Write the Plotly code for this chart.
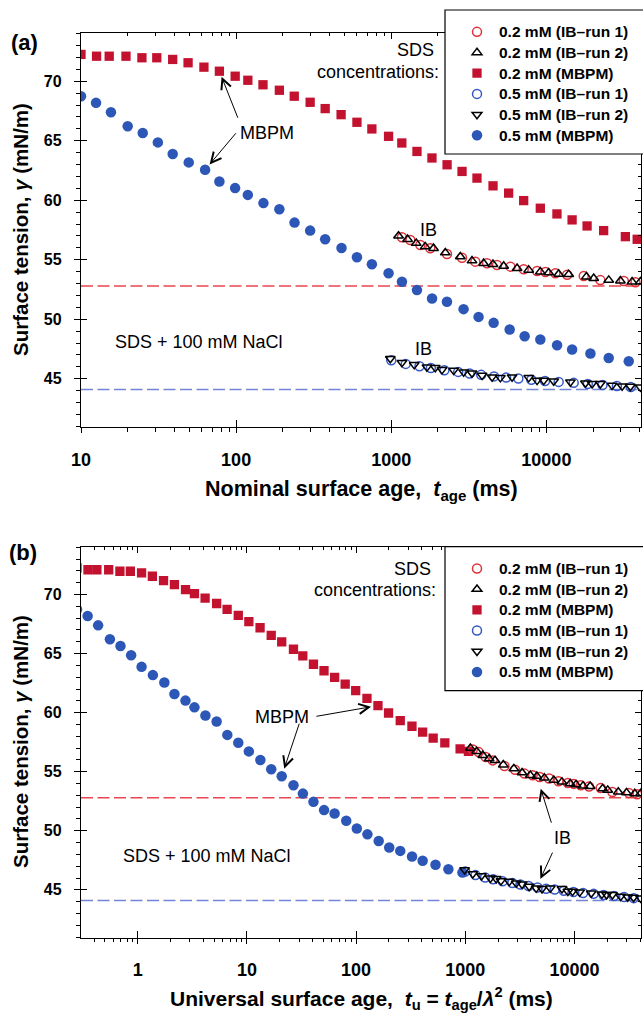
import plotly.graph_objects as go
import numpy as np

# ---------------------------------------------------------------
# Surface tension of SDS + 100 mM NaCl solutions
# MBPM = maximum bubble pressure method, IB = inclined bubble runs
# ---------------------------------------------------------------

# 0.2 mM SDS, MBPM: nominal surface age (ms) and surface tension (mN/m)
t_age_mbpm_02 = [10, 12.6, 15.2, 19.5, 24.7, 30.8, 39, 49, 62, 78, 98.6, 119, 149, 190,
                 237, 300, 375, 475, 601, 750, 961, 1170, 1465, 1830, 2290, 2860, 3570,
                 4530, 5710, 7140, 9140, 11700, 14650, 18300, 23400, 32300, 38500]
gamma_mbpm_02 = [72.25, 72.1, 72.1, 72.1, 71.97, 71.97, 71.83, 71.55, 71.18, 70.84, 70.42,
                 70.08, 69.70, 69.24, 68.74, 68.23, 67.70, 67.19, 66.55, 65.99, 65.37, 64.81,
                 64.10, 63.55, 62.98, 62.42, 61.86, 61.21, 60.60, 59.97, 59.33, 58.85, 58.35,
                 57.84, 57.45, 56.94, 56.72]

# 0.5 mM SDS, MBPM
t_age_mbpm_05 = [10, 12.5, 15.6, 20.0, 25.0, 31.3, 39.0, 49.5, 63.1, 78.0, 98.5, 119, 150,
                 190, 238, 300, 375, 478, 601, 750, 961, 1172, 1465, 1832, 2287, 2925, 3656,
                 4571, 5800, 7244, 9140, 11720, 14650, 19230, 25230, 33960]
gamma_mbpm_05 = [68.74, 68.18, 67.39, 66.21, 65.65, 64.86, 63.88, 63.18, 62.56, 61.58, 61.02,
                 60.45, 59.76, 59.25, 58.12, 57.45, 56.72, 55.99, 55.21, 54.62, 53.86, 53.15,
                 52.45, 51.75, 51.47, 50.85, 50.20, 49.70, 49.14, 48.58, 48.30, 47.82, 47.46,
                 47.12, 46.75, 46.47]

# 0.2 mM SDS, IB run 1 and run 2
t_ib1_02 = [1172, 1327, 1540, 1785, 2287, 2858, 3483, 4142, 4806, 5866, 7145, 8710, 9862,
            11430, 13610, 17420, 22290, 31560, 37540]
gamma_ib1_02 = [56.89, 56.66, 56.24, 55.96, 55.48, 55.17, 54.84, 54.70, 54.56, 54.42, 54.20,
                54.05, 53.97, 53.86, 53.74, 53.63, 53.29, 53.21, 53.10]
t_ib2_02 = [1114, 1274, 1449, 1656, 1874, 2230, 2786, 3316, 3940, 4527, 5306, 6474, 7692,
            9145, 10350, 12000, 13930, 18120, 20190, 25240, 30000, 35700, 40360]
gamma_ib2_02 = [57.0, 56.72, 56.39, 56.10, 55.96, 55.59, 55.26, 54.92, 54.70, 54.62, 54.47,
                54.28, 54.14, 53.99, 53.91, 53.80, 53.77, 53.57, 53.44, 53.29, 53.23, 53.15,
                53.15]

# 0.5 mM SDS, IB run 1 and run 2
t_ib1_05 = [1000, 1240, 1520, 1800, 2200, 2700, 3200, 3800, 4600, 5500, 6600, 8000, 9800,
            12000, 15000, 18500, 23000, 28500, 35000]
gamma_ib1_05 = [46.55, 46.25, 46.05, 45.90, 45.72, 45.58, 45.45, 45.33, 45.20, 45.10, 45.02,
                44.92, 44.82, 44.74, 44.66, 44.57, 44.48, 44.40, 44.30]
t_ib2_05 = [986, 1172, 1407, 1698, 1922, 2124, 2525, 2929, 3316, 3850, 4465, 5050, 6010,
            7692, 8710, 9615, 11150, 14280, 17860, 19720, 22300, 26500, 30780, 34800, 40360]
gamma_ib2_05 = [46.70, 46.36, 46.19, 45.99, 45.94, 45.77, 45.71, 45.57, 45.48, 45.29, 45.15,
                45.10, 45.15, 45.10, 44.87, 44.87, 44.81, 44.73, 44.64, 44.59, 44.59, 44.45,
                44.39, 44.36, 44.30]

# bubble expansion factor used for the universal surface age t_u = t_age / lambda^2
LAMBDA_SQ_MBPM = 36.0
LAMBDA_SQ_IB = 1.0

# equilibrium surface tensions (dashed lines)
gamma_eq_02 = 52.8
gamma_eq_05 = 44.1

# axis ticks
x_major_ticks = [1, 10, 100, 1000, 10000]
x_major_text = ["1", "10", "100", "1000", "10000"]
y_major_ticks = [45, 50, 55, 60, 65, 70]
y_major_text = ["45", "50", "55", "60", "65", "70"]
x_minor_ticks = [k * 10.0 ** e for e in range(-1, 5) for k in range(2, 10)]
y_minor_ticks = list(range(41, 75))

X_RANGE_A = [1.0, 4.61]
X_RANGE_B = [-0.52, 4.61]
Y_RANGE = [40.95, 74.05]

FONT = "Liberation Sans, Arial, Helvetica, sans-serif"
RED_FILL = "#C2122F"
BLUE_FILL = "#2C57B7"
RED_OPEN = "#E0303A"
BLUE_OPEN = "#3558C8"
RED_DASH = "#E8474F"
BLUE_DASH = "#7484D8"

W, H = 643, 1017
ML, MR = 81, 2
PW = W - ML - MR


def px_x(p):
    return (p - ML) / PW


def px_y(p):
    return 1 - p / H


def entry(text):
    # legend entry text, set a little larger than the legend's row spacing font
    return '<span style="font-size:15.5px">' + text + "</span>"


fig = go.Figure()


def add_panel(xa, ya, legend_id, scale_mbpm, scale_ib):
    def tu(ts, s):
        return [t / s for t in ts]

    # MBPM data first, IB runs drawn on top
    fig.add_trace(go.Scatter(
        x=tu(t_age_mbpm_02, scale_mbpm), y=gamma_mbpm_02, mode="markers",
        name=entry("0.2 mM (MBPM)"), legendrank=3, legend=legend_id,
        marker=dict(symbol="square", size=9.3, color=RED_FILL, line=dict(width=0)),
        xaxis=xa, yaxis=ya))
    fig.add_trace(go.Scatter(
        x=tu(t_age_mbpm_05, scale_mbpm), y=gamma_mbpm_05, mode="markers",
        name=entry("0.5 mM (MBPM)"), legendrank=6, legend=legend_id,
        marker=dict(symbol="circle", size=10.5, color=BLUE_FILL, line=dict(width=0)),
        xaxis=xa, yaxis=ya))
    fig.add_trace(go.Scatter(
        x=tu(t_ib1_02, scale_ib), y=gamma_ib1_02, mode="markers",
        name=entry("0.2 mM (IB\u2013run 1)"), legendrank=1, legend=legend_id,
        marker=dict(symbol="circle-open", size=9, color=RED_OPEN, line=dict(width=1.5)),
        xaxis=xa, yaxis=ya))
    fig.add_trace(go.Scatter(
        x=tu(t_ib1_05, scale_ib), y=gamma_ib1_05, mode="markers",
        name=entry("0.5 mM (IB\u2013run 1)"), legendrank=4, legend=legend_id,
        marker=dict(symbol="circle-open", size=9, color=BLUE_OPEN, line=dict(width=1.5)),
        xaxis=xa, yaxis=ya))
    fig.add_trace(go.Scatter(
        x=tu(t_ib2_02, scale_ib), y=gamma_ib2_02, mode="markers",
        name=entry("0.2 mM (IB\u2013run 2)"), legendrank=2, legend=legend_id,
        marker=dict(symbol="triangle-up-open", size=8.5, color="black", line=dict(width=1.5)),
        xaxis=xa, yaxis=ya))
    fig.add_trace(go.Scatter(
        x=tu(t_ib2_05, scale_ib), y=gamma_ib2_05, mode="markers",
        name=entry("0.5 mM (IB\u2013run 2)"), legendrank=5, legend=legend_id,
        marker=dict(symbol="triangle-down-open", size=8.5, color="black", line=dict(width=1.5)),
        xaxis=xa, yaxis=ya))


add_panel("x", "y", "legend", 1.0, 1.0)
add_panel("x2", "y2", "legend2", LAMBDA_SQ_MBPM, LAMBDA_SQ_IB)

# empty traces so the overlaid tick-only axes get their subplots
for xa, ya in [("x3", "y"), ("x4", "y"), ("x", "y3"), ("x", "y4"),
               ("x5", "y2"), ("x6", "y2"), ("x2", "y5"), ("x2", "y6")]:
    fig.add_trace(go.Scatter(x=[], y=[], xaxis=xa, yaxis=ya, showlegend=False,
                             hoverinfo="skip"))

tick_font_x = dict(family=FONT, size=18, color="black", weight="bold")
tick_font_y = dict(family=FONT, size=16, color="black", weight="bold")


def main_x(rng, anchor):
    return dict(type="log", range=rng, anchor=anchor, domain=[0, 1],
                showline=True, linecolor="black", linewidth=1.3, mirror=True,
                ticks="outside", ticklen=5, tickwidth=1.3, tickcolor="black",
                tickmode="array", tickvals=x_major_ticks, ticktext=x_major_text,
                tickfont=tick_font_x, ticklabelstandoff=11,
                minor=dict(ticks="outside", ticklen=3.5, tickwidth=1, tickcolor="black",
                           tickmode="array", tickvals=x_minor_ticks, showgrid=False),
                showgrid=False, zeroline=False)


def main_y(domain, anchor):
    return dict(range=Y_RANGE, anchor=anchor, domain=domain,
                showline=True, linecolor="black", linewidth=1.3, mirror=True,
                ticks="outside", ticklen=6, tickwidth=1.3, tickcolor="black",
                tickmode="array", tickvals=y_major_ticks, ticktext=y_major_text,
                tickfont=tick_font_y, ticklabelstandoff=9,
                minor=dict(ticks="outside", ticklen=3.5, tickwidth=1, tickcolor="black",
                           tickmode="array", tickvals=y_minor_ticks, showgrid=False),
                showgrid=False, zeroline=False)


def over_x(rng, base, anchor, side, with_minor):
    d = dict(type="log", range=rng, overlaying=base, anchor=anchor, side=side,
             ticks="inside", ticklen=7 if side == "bottom" else 6, tickwidth=1.3,
             tickcolor="black", tickmode="array", tickvals=x_major_ticks,
             showticklabels=False, showline=False, showgrid=False, zeroline=False)
    if with_minor:
        d["minor"] = dict(ticks="inside", ticklen=3, tickwidth=1, tickcolor="black",
                          tickmode="array", tickvals=x_minor_ticks, showgrid=False)
    return d


def over_y(base, anchor, side, with_minor):
    d = dict(range=Y_RANGE, overlaying=base, anchor=anchor, side=side,
             ticks="inside", ticklen=6, tickwidth=1.3, tickcolor="black",
             tickmode="array", tickvals=y_major_ticks,
             showticklabels=False, showline=False, showgrid=False, zeroline=False)
    if with_minor:
        d["minor"] = dict(ticks="inside", ticklen=3, tickwidth=1, tickcolor="black",
                          tickmode="array", tickvals=y_minor_ticks, showgrid=False)
    return d


DOM_A = [px_y(427), px_y(33)]
DOM_B = [px_y(937.7), px_y(546.7)]

# legend entries sit inside a framed white box drawn as a shape
legend_style = dict(xanchor="left", yanchor="top", bgcolor="rgba(0,0,0,0)",
                    borderwidth=0, itemwidth=34, tracegroupgap=0, traceorder="normal",
                    font=dict(family=FONT, size=13.6, color="black", weight="bold"))
LEGEND_BOXES = [(10, 154), (546.7, 690.7)]

fig.update_layout(
    width=W, height=H, autosize=False,
    margin=dict(l=ML, r=MR, t=0, b=0, pad=0, autoexpand=False),
    paper_bgcolor="white", plot_bgcolor="white",
    font=dict(family=FONT, color="black"),
    showlegend=True,
    xaxis=main_x(X_RANGE_A, "y"),
    yaxis=main_y(DOM_A, "x"),
    xaxis2=main_x(X_RANGE_B, "y2"),
    yaxis2=main_y(DOM_B, "x2"),
    xaxis3=over_x(X_RANGE_A, "x", "y", "bottom", False),
    xaxis4=over_x(X_RANGE_A, "x", "y", "top", True),
    yaxis3=over_y("y", "x", "left", False),
    yaxis4=over_y("y", "x", "right", True),
    xaxis5=over_x(X_RANGE_B, "x2", "y2", "bottom", False),
    xaxis6=over_x(X_RANGE_B, "x2", "y2", "top", True),
    yaxis5=over_y("y2", "x2", "left", False),
    yaxis6=over_y("y2", "x2", "right", True),
    legend=dict(x=px_x(455), y=px_y(LEGEND_BOXES[0][0] + 6.5), **legend_style),
    legend2=dict(x=px_x(455), y=px_y(LEGEND_BOXES[1][0] + 6.5), **legend_style),
)

for top, bottom in LEGEND_BOXES:
    fig.add_shape(type="rect", xref="paper", yref="paper",
                  x0=px_x(445), x1=px_x(650), y0=px_y(bottom), y1=px_y(top),
                  fillcolor="white", line=dict(color="black", width=1.2), layer="above")

# equilibrium surface tension lines
for xr, yr in [("x domain", "y"), ("x2 domain", "y2")]:
    for g, c in [(gamma_eq_02, RED_DASH), (gamma_eq_05, BLUE_DASH)]:
        fig.add_shape(type="line", xref=xr, yref=yr, x0=0, x1=1, y0=g, y1=g,
                      line=dict(color=c, width=1.6, dash="12px,4.5px"), layer="below")

annotations = []


def label(text, px, py, size=18, weight="normal", xanchor="center", angle=0):
    annotations.append(dict(text=text, x=px_x(px), y=px_y(py), xref="paper", yref="paper",
                            xanchor=xanchor, yanchor="middle", showarrow=False,
                            textangle=angle,
                            font=dict(family=FONT, size=size, color="black", weight=weight)))


def arrow(xv, yv, xr, yr, ax, ay, standoff):
    annotations.append(dict(text="", x=np.log10(xv), y=yv, xref=xr, yref=yr,
                            ax=ax, ay=ay, showarrow=True, arrowhead=5, arrowsize=2.0,
                            arrowwidth=1, arrowcolor="black", standoff=standoff,
                            startstandoff=0))


# panel letters
label("(a)", 9, 42, size=22, weight="bold", xanchor="left")
label("(b)", 7, 552, size=22, weight="bold", xanchor="left")

# axis titles
y_title = "Surface tension, <i>\u03b3</i> (mN/m)"
label(y_title, 20, 230, size=20.5, weight="bold", angle=-90)
label(y_title, 20, 742, size=20.5, weight="bold", angle=-90)
label("Nominal surface age,&nbsp; <i>t</i><sub>age</sub> (ms)", 361, 490,
      size=21.5, weight="bold")
label("Universal surface age,&nbsp; <i>t</i><sub>u</sub> = <i>t</i><sub>age</sub>/"
      "<i>\u03bb</i><sup>2</sup> (ms)", 361, 998, size=21, weight="bold")

# panel (a) labels
label("SDS", 436, 50, xanchor="right")
label("concentrations:", 441, 72, xanchor="right")
label("MBPM", 267, 133)
label("IB", 428, 230)
label("IB", 423, 349)
label("SDS + 100 mM NaCl", 199, 342)

# panel (b) labels
label("SDS", 433, 569, xanchor="right")
label("concentrations:", 438, 590, xanchor="right")
label("MBPM", 282, 717)
label("IB", 562, 838)
label("SDS + 100 mM NaCl", 207, 856)

# arrows in panel (a)
arrow(t_age_mbpm_02[9], gamma_mbpm_02[9], "x", "y", 19, 48, 6)
arrow(t_age_mbpm_05[8], gamma_mbpm_05[8], "x", "y", 32, -38, 7)

# arrows in panel (b)
arrow(t_age_mbpm_02[28] / LAMBDA_SQ_MBPM, gamma_mbpm_02[28], "x2", "y2", -63, 11, 7)
arrow(t_age_mbpm_05[19] / LAMBDA_SQ_MBPM, gamma_mbpm_05[19], "x2", "y2", 18, -54, 8)
arrow(t_ib2_02[9] / LAMBDA_SQ_IB, gamma_ib2_02[9], "x2", "y2", 15, 48, 13)
arrow(t_ib2_05[10] / LAMBDA_SQ_IB, gamma_ib2_05[10], "x2", "y2", 17, -37, 10)

fig.update_layout(annotations=annotations)

fig.write_html("out.html")
